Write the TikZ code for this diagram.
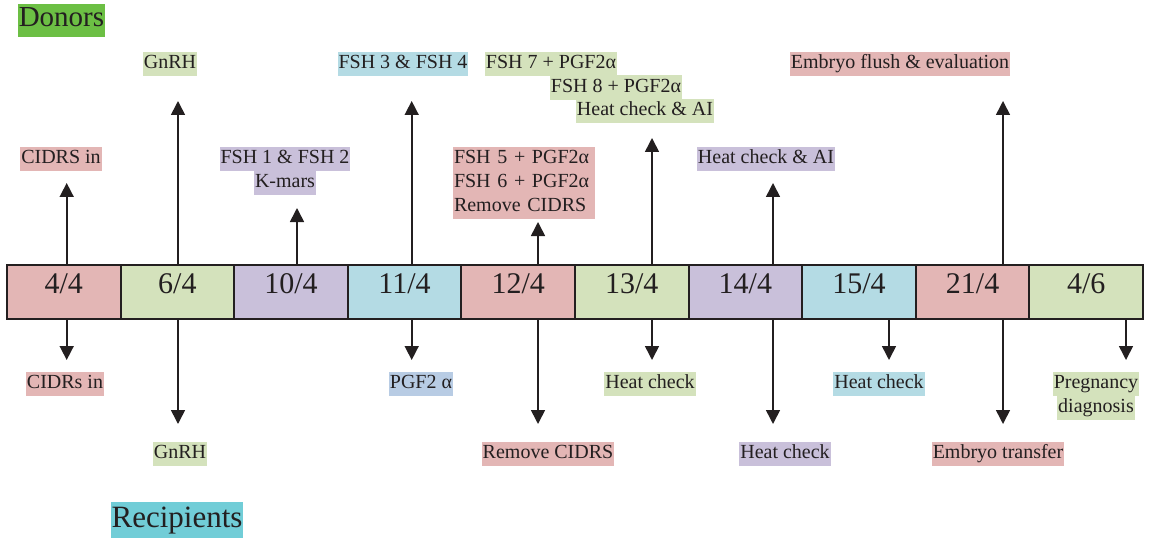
\documentclass[tikz,border=0pt]{standalone}
\usepackage{fontspec}
\setmainfont{LiberationSerif}[Extension=.ttf, UprightFont=*-Regular, BoldFont=*-Bold, ItalicFont=*-Italic]
\usetikzlibrary{arrows.meta,positioning}
\tikzset{>={Triangle[width=14pt,length=14pt]}}
\definecolor{ink}{HTML}{231F20}
\definecolor{cred}{HTML}{E3B6B5}
\definecolor{cgreen}{HTML}{D4E2BC}
\definecolor{cpurple}{HTML}{C9C0DA}
\definecolor{cblue}{HTML}{B4DBE4}
\definecolor{csteel}{HTML}{B8CCE4}
\definecolor{dgreen}{HTML}{6CBF44}
\definecolor{rteal}{HTML}{71CDD7}

\begin{document}
\begin{tikzpicture}[x=1pt,y=-1pt,
    cell/.style={draw=ink, line width=2pt, minimum width=113.6pt, minimum height=54pt,
      inner sep=0pt, text=ink, font=\fontsize{30}{36}\selectfont, text height=20pt, text depth=18pt},
    tag/.style={fill=#1, text=ink, font=\fontsize{20}{24}\selectfont,
      inner xsep=1pt, inner ysep=3pt, text height=14pt, text depth=4.5pt},
    blocktag/.style={tag=#1, text width=140pt, align=left},
    title/.style={fill=#1, text=ink, inner xsep=1pt, inner ysep=2pt},
    pin/.style={->, draw=ink, line width=1.6pt}]
  \useasboundingbox (0,0) rectangle (1153,540);

  % Titles
  \node[title=dgreen, font=\fontsize{29}{34}\selectfont, text height=21pt, text depth=8pt] (donors) at (61.5,20.5) {Donors};
  \node[title=rteal, font=\fontsize{31}{36}\selectfont, text height=23pt, text depth=9pt] (recipients) at (177,520) {Recipients};

  % Timeline
  \foreach \dd/\mm/\col [count=\i] in {4/4/cred, 6/4/cgreen, 10/4/cpurple, 11/4/cblue, 12/4/cred,
      13/4/cgreen, 14/4/cpurple, 15/4/cblue, 21/4/cred, 4/6/cgreen}
    \node[cell, fill=\col] (c\i) at ({7+113.6*(\i-0.5)},292) {\dd/\mm};

  % Donor events
  \node[tag=cred] (u1) at (61,159) {CIDRS in};
  \node[tag=cgreen] (u2) at (170,64) {GnRH};
  \node[tag=cpurple] (u3a) at (285,159) {FSH 1 \& FSH 2};
  \node[tag=cpurple, below=-1pt of u3a] (u3b) {K-mars};
  \node[tag=cblue] (u4) at (403,64) {FSH 3 \& FSH 4};
  \node[blocktag=cred] (u5a) at (524,159) {FSH 5 + PGF2α};
  \node[blocktag=cred, below=-1pt of u5a] (u5b) {FSH 6 + PGF2α};
  \node[blocktag=cred, below=-1pt of u5b] (u5c) {Remove CIDRS};
  \node[tag=cgreen] (u6a) at (551,64) {FSH 7 + PGF2α};
  \node[tag=cgreen] (u6b) at (616,87.5) {FSH 8 + PGF2α};
  \node[tag=cgreen] (u6c) at (645,111) {Heat check \& AI};
  \node[tag=cpurple] (u7) at (766,159) {Heat check \& AI};
  \node[tag=cred] (u9) at (900,64) {Embryo flush \& evaluation};

  % Recipient events
  \node[tag=cred] (l1) at (65,384) {CIDRs in};
  \node[tag=cgreen] (l2) at (180,454) {GnRH};
  \node[tag=csteel] (l4) at (421,384) {PGF2 α};
  \node[tag=cred] (l5) at (548,454) {Remove CIDRS};
  \node[tag=cgreen] (l6) at (650,384) {Heat check};
  \node[tag=cpurple] (l7) at (785,454) {Heat check};
  \node[tag=cblue] (l8) at (879,384) {Heat check};
  \node[tag=cred] (l9) at (998,454) {Embryo transfer};
  \node[tag=cgreen] (l10a) at (1096,384) {Pregnancy};
  \node[tag=cgreen, below=-1pt of l10a] (l10b) {diagnosis};

  % Arrows up
  \foreach \c/\x/\y in {1/66.7/183, 2/178/101, 3/297/208, 4/411.7/101, 5/538/222,
      6/652/138, 7/773/183, 9/1003/101} {
    \coordinate (up\c) at (\x,\y);
    \draw[pin] (c\c.north -| up\c) -- (up\c);
  }

  % Arrows down
  \foreach \c/\x/\y in {1/66.7/360, 2/178/424, 4/411.7/360, 5/538/424, 6/652/360,
      7/773/424, 8/889/360, 9/1003/424, 10/1126/360} {
    \coordinate (dn\c) at (\x,\y);
    \draw[pin] (c\c.south -| dn\c) -- (dn\c);
  }
\end{tikzpicture}
\end{document}
